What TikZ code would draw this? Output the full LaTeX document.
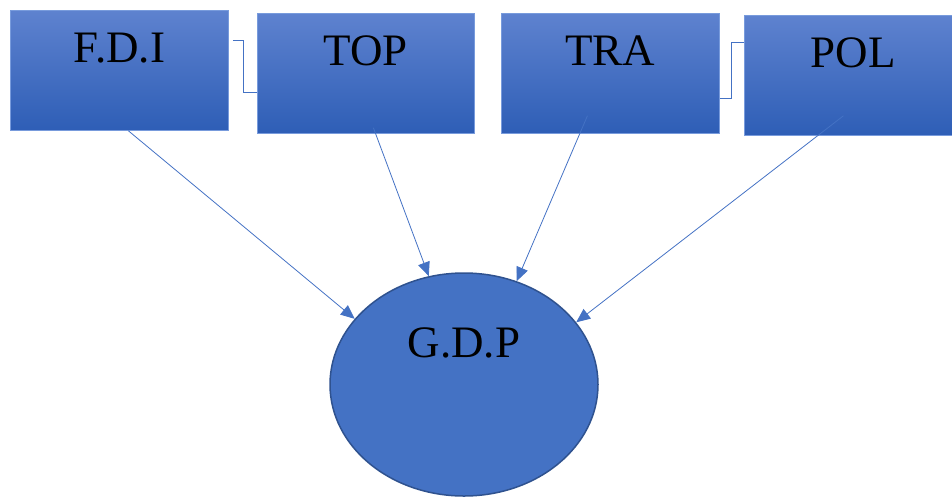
\documentclass[tikz,border=0pt]{standalone}
\usepackage{fontspec}
\setmainfont{Liberation Serif}
\usetikzlibrary{shapes.geometric}
\usetikzlibrary{arrows.meta}
\definecolor{accent}{RGB}{68,114,196}
\definecolor{accentdark}{RGB}{47,82,143}
\definecolor{boxtop}{RGB}{94,130,207}
\definecolor{boxmid}{RGB}{64,111,200}
\definecolor{boxbottom}{RGB}{46,94,182}
\definecolor{boxedge}{RGB}{120,155,220}
\tikzset{
    % Filled triangle, much like the office arrow head
    >={Triangle[length=14pt,width=12pt]},
%
    % Shaded box holding one factor, text kept near its top
    factor box/.style={
        rectangle, anchor=north west, inner sep=0,
        minimum width=218pt, text height=52pt, text depth=68pt,
        top color=boxtop, middle color=boxmid, bottom color=boxbottom,
        draw=boxedge, line width=0.8pt,
        font=\fontsize{45}{48}\selectfont},
%
    % The outcome, a plain filled ellipse
    outcome disk/.style={
        ellipse, fill=accent, draw=accentdark, line width=1.5pt,
        minimum width=268pt, minimum height=223pt, inner sep=0,
        text height=31pt, text depth=86pt,
        font=\fontsize{45}{48}\selectfont},
%
    % Thin elbow joining two neighbouring boxes
    link line/.style={draw=accent, line width=0.8pt},
%
    % Thin arrow from a factor to the outcome
    effect arrow/.style={draw=accent, line width=0.8pt, ->}}

\begin{document}
\begin{tikzpicture}[x=1pt, y=-1pt]

\useasboundingbox (0,0) rectangle (952,496);

% Factors

\node [factor box] (fdi) at (10,10) {F.D.I};
\node [factor box, minimum width=217pt] (top) at (257,13) {TOP};
\node [factor box] (tra) at (501,13) {TRA};
\node [factor box] (pol) at (744,15) {POL};

\draw [link line] ([xshift=4pt,yshift=-30pt]fdi.north east)
    -- ++(11,0) |- ([yshift=-79pt]top.north west);
\draw [link line] ([yshift=-85pt]tra.north east)
    -- ++(12,0) |- ([yshift=-27pt]pol.north west);

% Outcome

\node [outcome disk] (gdp) at (464,384.5) {G.D.P};

\draw [effect arrow] ([xshift=9pt]fdi.south) -- (gdp.149);
\draw [effect arrow] ([xshift=7.5pt,yshift=6pt]top.south) -- (gdp.108.8);
\draw [effect arrow] ([xshift=-23pt,yshift=18pt]tra.south) -- (gdp.63.1);
\draw [effect arrow] ([xshift=-10pt,yshift=20pt]pol.south) -- (gdp.29.8);

\end{tikzpicture}
\end{document}
